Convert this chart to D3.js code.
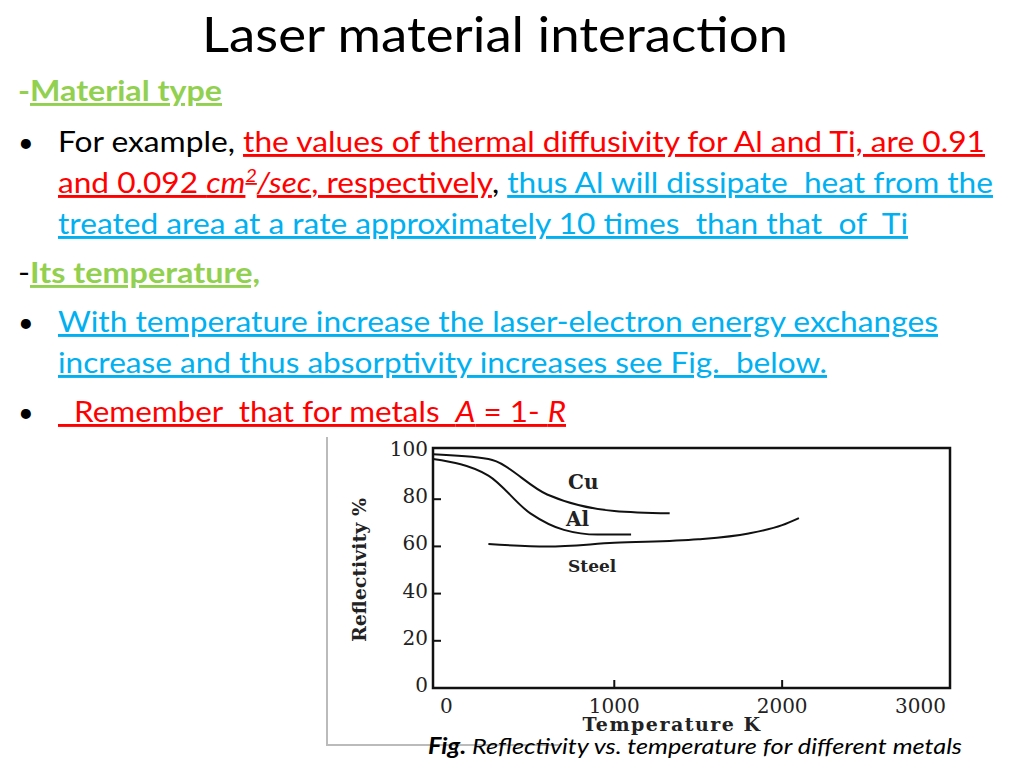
<!DOCTYPE html>
<html><head><meta charset="utf-8">
<script src="https://cdn.jsdelivr.net/npm/d3@7"></script>
<style>body{margin:0;background:#fff}</style>
</head><body>
<div id="wrapper"></div>
<script>
// curve data (temperature K, reflectivity %)
const cuT = [-80, 250, 600, 1000, 1330];
const cuR = [99, 97, 82, 75, 74];
const alT = [-80, 250, 500, 700, 900, 1100];
const alR = [97, 90, 74, 67, 65, 65];
const steelT = [250, 600, 1000, 1500, 1800, 2000, 2100];
const steelR = [61, 60, 61.5, 63, 65.5, 69, 72];
const xTicks = [0, 1000, 2000, 3000];
const yTicks = [0, 20, 40, 60, 80, 100];

const svg = d3.select("#wrapper").append("svg").attr("width", 1024).attr("height", 768);

const green = "#92d050", red = "#ff0000", blue = "#00b0f0";
const font = "Lato, 'Open Sans', sans-serif";

svg.append("text").attr("x", 202).attr("y", 52).attr("textLength", 586).attr("lengthAdjust", "spacingAndGlyphs")
  .attr("font-family", font).attr("font-size", 48).text("Laser material interaction");

// body lines: parts are [text, color, underline, italic, bold, sup]
const lines = [
  {x: 18, y: 101, w: 204, parts: [["-", green, false, false, true], ["Material type", green, true, false, true]]},
  {x: 58, y: 152, w: 927, bullet: true, parts: [["For example, ", "#000"], ["the values of thermal diffusivity for Al and Ti, are 0.91", red, true]]},
  {x: 58, y: 193, w: 935, parts: [["and 0.092 ", red, true], ["cm", red, true, true], ["2", red, true, true, false, true], ["/sec", red, true, true], [", respectively", red, true], [", ", "#000"], ["thus Al will dissipate  heat from the", blue, true]]},
  {x: 58, y: 234, w: 850, parts: [["treated area at a rate approximately 10 times  than that  of  Ti", blue, true]]},
  {x: 18, y: 283, w: 242, parts: [["-", "#000"], ["Its temperature,", green, true, false, true]]},
  {x: 58, y: 332, w: 880, bullet: true, parts: [["With temperature increase the laser-electron energy exchanges", blue, true]]},
  {x: 58, y: 373, w: 769, parts: [["increase and thus absorptivity increases see Fig.  below.", blue, true]]},
  {x: 58, y: 422, w: 508, bullet: true, parts: [["  Remember  that for metals  ", red, true], ["A", red, true, true], [" = 1- ", red, true], ["R", red, true, true]]}
];
lines.forEach(l => {
  if (l.bullet) svg.append("text").attr("x", 18).attr("y", l.y).attr("font-family", font)
    .attr("font-size", 27).text("•");
  const t = svg.append("text").attr("x", l.x).attr("y", l.y).attr("font-family", font)
    .attr("font-size", 29).attr("textLength", l.w).attr("lengthAdjust", "spacingAndGlyphs")
    .attr("xml:space", "preserve").style("white-space", "pre");
  l.parts.forEach(p => {
    const s = t.append("tspan").attr("fill", p[1]).text(p[0]);
    if (p[2]) s.attr("text-decoration", "underline");
    if (p[3]) s.attr("font-style", "italic");
    if (p[4]) s.attr("font-weight", "bold");
    if (p[5]) s.attr("font-size", 18).attr("baseline-shift", "super");
  });
});

// figure border
svg.append("path").attr("d", "M327,437V745H560").attr("fill", "none").attr("stroke", "#bbb").attr("stroke-width", 2);

const x = d3.scaleLinear().domain([-80, 3000]).range([433, 950]);
const y = d3.scaleLinear().domain([0, 100]).range([688, 452]);
const serif = "'DejaVu Serif', 'Liberation Serif', serif";

svg.append("rect").attr("x", 433).attr("y", 448).attr("width", 517).attr("height", 240)
  .attr("fill", "none").attr("stroke", "#111").attr("stroke-width", 2.5);

const ga = svg.append("g").attr("font-family", serif).attr("font-size", 20).attr("fill", "#222");
yTicks.forEach(v => {
  ga.append("text").attr("x", 428).attr("y", y(v) + 4).attr("text-anchor", "end").text(v);
  if (v > 0 && v < 100) ga.append("line").attr("x1", 433).attr("x2", 441).attr("y1", y(v)).attr("y2", y(v)).attr("stroke", "#111").attr("stroke-width", 2);
});
xTicks.forEach(v => {
  ga.append("text").attr("x", v === 3000 ? 946 : x(v)).attr("y", 713)
    .attr("text-anchor", v === 3000 ? "end" : "middle").text(v);
  if (v > 0 && v < 3000) ga.append("line").attr("x1", x(v)).attr("x2", x(v)).attr("y1", 688).attr("y2", 680).attr("stroke", "#111").attr("stroke-width", 2);
});
ga.append("text").attr("x", 672).attr("y", 731).attr("text-anchor", "middle").attr("font-size", 19)
  .attr("letter-spacing", 1.5).attr("font-weight", "bold").text("Temperature   K");
ga.append("text").attr("transform", "translate(366,570) rotate(-90)").attr("text-anchor", "middle")
  .attr("font-weight", "bold").attr("font-size", 19).text("Reflectivity %");

const line = d3.line().curve(d3.curveMonotoneX).x(d => x(d[0])).y(d => y(d[1]));
[[cuT, cuR], [alT, alR], [steelT, steelR]].forEach(([t, r]) => {
  svg.append("path").attr("d", line(d3.zip(t, r))).attr("fill", "none")
    .attr("stroke", "#111").attr("stroke-width", 2);
});
ga.append("text").attr("x", 568).attr("y", 489).attr("font-weight", "bold").text("Cu");
ga.append("text").attr("x", 566).attr("y", 526).attr("font-weight", "bold").text("Al");
ga.append("text").attr("x", 568).attr("y", 572).attr("font-weight", "bold").attr("font-size", 17).text("Steel");

svg.append("text").attr("x", 428).attr("y", 754).attr("textLength", 534).attr("lengthAdjust", "spacingAndGlyphs")
  .attr("font-family", font).attr("font-size", 22).attr("font-style", "italic")
  .call(t => { t.append("tspan").attr("font-weight", "bold").text("Fig."); t.append("tspan").text(" Reflectivity vs. temperature for different metals"); });
</script>
</body></html>
